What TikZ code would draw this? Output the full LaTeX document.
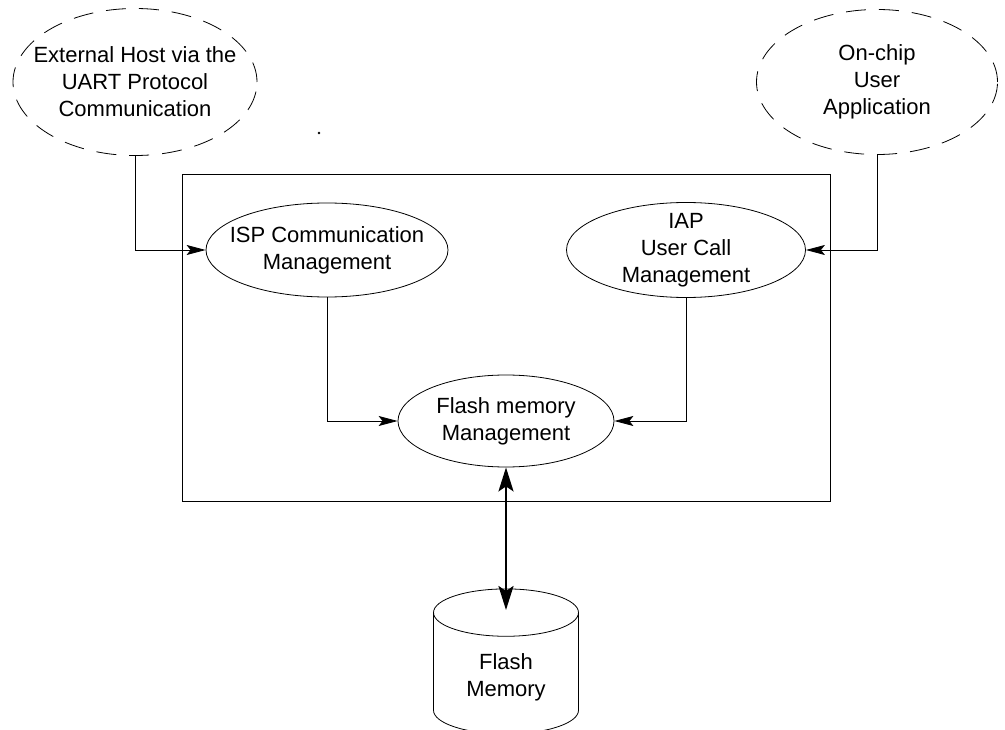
\documentclass[tikz,border=0pt]{standalone}
\usepackage{fontspec}
\setmainfont{Liberation Sans}
\usetikzlibrary{shapes.geometric,arrows.meta}
\tikzset{
	txt/.style={align=center, font=\fontsize{22}{27}\selectfont},
	proc/.style={draw, ellipse, line width=0.8pt, inner sep=0pt},
	actor/.style={proc, dash pattern=on 20pt off 13pt},
	flow/.style={line width=0.8pt, -{Stealth[length=19pt,width=10pt,inset=4pt]}},
	bus/.style={line width=2.4pt, {Stealth[length=24pt,width=15pt,inset=5pt]}-{Stealth[length=24pt,width=15pt,inset=5pt]}},
}
\begin{document}
\begin{tikzpicture}[x=1pt,y=-1pt]
	\useasboundingbox (0,0) rectangle (1005,730);
	% outside actors
	\node[actor, minimum width=244pt, minimum height=147pt,
		label={[txt]center:External Host via the\\UART Protocol\\Communication}] (host) at (135,82) {};
	\node[actor, minimum width=241pt, minimum height=145pt,
		label={[txt]center:On-chip\\User\\Application}] (app) at (877,82) {};
	\fill (319,133) circle (1.3pt);
	% the loader
	\draw[line width=0.8pt] (182,174) rectangle (830,501);
	\node[proc, minimum width=242pt, minimum height=94pt,
		label={[txt]center:ISP Communication\\Management}] (isp) at (327,250) {};
	\node[proc, minimum width=239pt, minimum height=95pt,
		label={[txt]center:IAP\\User Call\\Management}] (iap) at (686,250) {};
	\node[proc, minimum width=216pt, minimum height=92pt,
		label={[txt]center:Flash memory\\Management}] (fmm) at (506,421) {};
	% the memory
	\node[cylinder, draw, line width=0.8pt, shape border rotate=90, aspect=0.55,
		minimum width=145pt, minimum height=145pt, txt] (mem) at (506,677) {Flash\\Memory};
	\coordinate (memtop) at (506,610);
	% links
	\draw[flow] (host.south) |- (isp.west);
	\draw[flow] (app.south) |- (iap.east);
	\draw[flow] (isp.south) |- (fmm.west);
	\draw[flow] (iap.south) |- (fmm.east);
	\draw[bus] (fmm.south) -- (memtop);
\end{tikzpicture}
\end{document}
